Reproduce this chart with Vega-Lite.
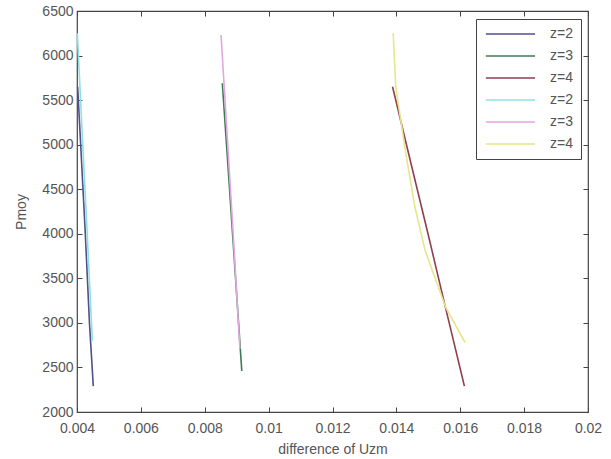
{
  "$schema": "https://vega.github.io/schema/vega-lite/v6.json",
  "width": 511,
  "height": 401,
  "autosize": "none",
  "padding": {"left": 77, "top": 11, "right": 23, "bottom": 47},
  "background": "white",
  "config": {
    "view": {"stroke": "#444444", "strokeWidth": 1.2},
    "font": "Liberation Sans",
    "axis": {
      "grid": false,
      "domain": false,
      "labelFlush": false,
      "labelOverlap": false,
      "tickColor": "#444444",
      "tickSize": -5,
      "labelColor": "#555555",
      "labelFontSize": 14,
      "labelFont": "Liberation Sans",
      "titleFont": "Liberation Sans",
      "titleFontSize": 14,
      "titleFontWeight": "normal",
      "titleColor": "#555555"
    }
  },
  "data": {
    "values": [
      {"s": "1", "x": 0.00402, "y": 5650}, {"s": "1", "x": 0.00412, "y": 4970}, {"s": "1", "x": 0.00426, "y": 4000}, {"s": "1", "x": 0.00439, "y": 3000}, {"s": "1", "x": 0.00451, "y": 2290},
      {"s": "2", "x": 0.00855, "y": 5690}, {"s": "2", "x": 0.00872, "y": 4800}, {"s": "2", "x": 0.00889, "y": 3900}, {"s": "2", "x": 0.00904, "y": 3100}, {"s": "2", "x": 0.00916, "y": 2460},
      {"s": "3", "x": 0.01388, "y": 5650}, {"s": "3", "x": 0.01445, "y": 4800}, {"s": "3", "x": 0.01499, "y": 4000}, {"s": "3", "x": 0.01552, "y": 3200}, {"s": "3", "x": 0.01613, "y": 2290},
      {"s": "4", "x": 0.00401, "y": 6250}, {"s": "4", "x": 0.00418, "y": 5000}, {"s": "4", "x": 0.00432, "y": 4000}, {"s": "4", "x": 0.00448, "y": 2800},
      {"s": "5", "x": 0.00851, "y": 6230}, {"s": "5", "x": 0.00872, "y": 5000}, {"s": "5", "x": 0.00889, "y": 4000}, {"s": "5", "x": 0.00910, "y": 2710},
      {"s": "6", "x": 0.01390, "y": 6250}, {"s": "6", "x": 0.01398, "y": 5650}, {"s": "6", "x": 0.01428, "y": 4936}, {"s": "6", "x": 0.01458, "y": 4300}, {"s": "6", "x": 0.01490, "y": 3811}, {"s": "6", "x": 0.01555, "y": 3170}, {"s": "6", "x": 0.01615, "y": 2780}
    ]
  },
  "resolve": {"axis": {"x": "independent", "y": "independent"}},
  "layer": [
    {
      "mark": {"type": "line", "strokeWidth": 1.6},
      "encoding": {
        "x": {
          "field": "x", "type": "quantitative",
          "scale": {"domain": [0.004, 0.02], "nice": false, "zero": false},
          "axis": {"orient": "bottom", "values": [0.004, 0.006, 0.008, 0.01, 0.012, 0.014, 0.016, 0.018, 0.02], "labelExpr": "format(datum.value, '.3~f')", "title": "difference of Uzm", "labelPadding": 14, "titlePadding": 7}
        },
        "y": {
          "field": "y", "type": "quantitative",
          "scale": {"domain": [2000, 6500], "nice": false, "zero": false},
          "axis": {"orient": "left", "values": [2000, 2500, 3000, 3500, 4000, 4500, 5000, 5500, 6000, 6500], "format": "d", "title": "Pmoy", "labelPadding": 9, "titlePadding": 13}
        },
        "color": {
          "field": "s", "type": "nominal",
          "scale": {"domain": ["1", "2", "3", "4", "5", "6"], "range": ["#50508c", "#3e7a58", "#8c4050", "#8fe0e0", "#e0a8e0", "#e6e68a"]},
          "legend": {
            "title": null,
            "orient": "none",
            "legendX": 399,
            "legendY": 8,
            "labelExpr": "['z=2','z=3','z=4','z=2','z=3','z=4'][toNumber(datum.label) - 1]",
            "symbolType": "M-0.84,0H7.2",
            "symbolSize": 150,
            "symbolStrokeWidth": 1.5,
            "labelFontSize": 14,
            "labelColor": "#555555",
            "labelFont": "Liberation Sans",
            "strokeColor": "#444444",
            "fillColor": "white",
            "padding": 8,
            "rowPadding": 8,
            "labelOffset": 52
          }
        },
        "order": {"field": "y", "type": "quantitative"}
      }
    },
    {
      "mark": {"type": "point", "opacity": 0},
      "encoding": {
        "x": {
          "field": "x", "type": "quantitative",
          "scale": {"domain": [0.004, 0.02], "nice": false, "zero": false},
          "axis": {"orient": "top", "values": [0.004, 0.006, 0.008, 0.01, 0.012, 0.014, 0.016, 0.018, 0.02], "labels": false, "title": null}
        },
        "y": {
          "field": "y", "type": "quantitative",
          "scale": {"domain": [2000, 6500], "nice": false, "zero": false},
          "axis": {"orient": "right", "values": [2000, 2500, 3000, 3500, 4000, 4500, 5000, 5500, 6000, 6500], "labels": false, "title": null}
        }
      }
    }
  ]
}
